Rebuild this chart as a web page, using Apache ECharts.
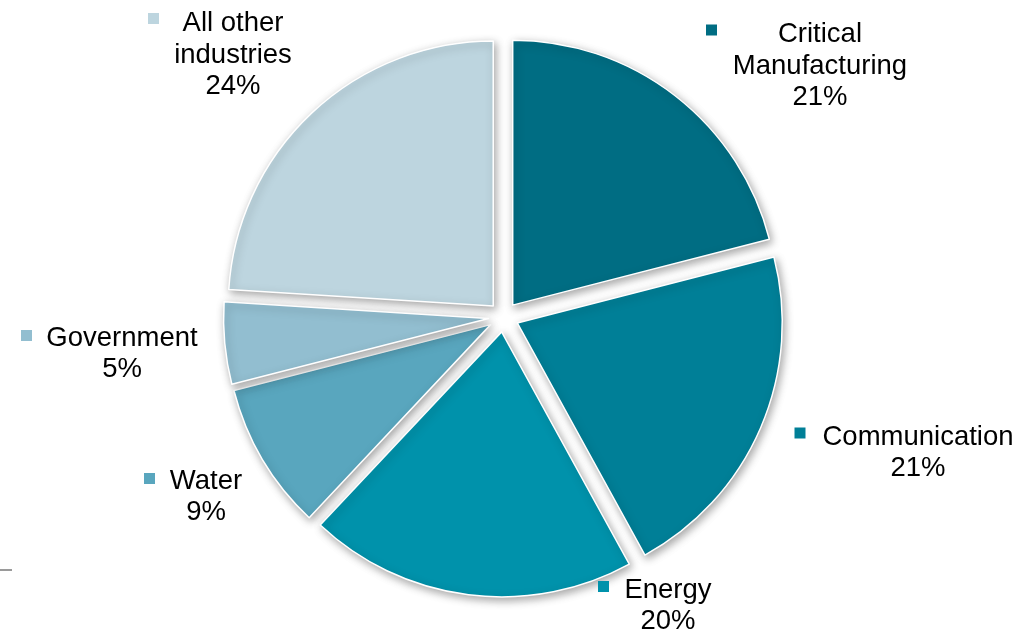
<!DOCTYPE html>
<html><head><meta charset="utf-8">
<script src="https://cdn.jsdelivr.net/npm/echarts@6/dist/echarts.min.js"></script>
<style>html,body{margin:0;padding:0;background:#fff}#c{width:1025px;height:631px}</style>
</head><body><div id="c"></div>
<script>
const categories = ['Critical\nManufacturing', 'Communication', 'Energy', 'Water', 'Government', 'All other\nindustries'];
const values = [21, 21, 20, 9, 5, 24];

const colors = ['#006D83', '#007F97', '#0092AB', '#59A6BE', '#92BED0', '#BDD5DF'];
const labelPos = [[820, 66], [918, 453], [668, 606], [206, 497], [122, 354], [233, 55]];
const markerPos = [[711.5, 30], [800, 433], [603.5, 586.5], [149.5, 478.5], [26.5, 335.5], [153.5, 18.5]];

const total = values.reduce((a, b) => a + b, 0);
const chart = echarts.init(document.getElementById('c'), null, {renderer: 'canvas'});
const pieCenter = [503.5, 317];
const pieRadius = 265;

function overlaySeries(labelOpt, posArr, perItem) {
  return {
    type: 'pie',
    center: pieCenter,
    radius: pieRadius,
    startAngle: 90,
    clockwise: true,
    silent: true,
    avoidLabelOverlap: false,
    data: categories.map((c, i) => Object.assign({
      name: c, value: values[i],
      itemStyle: {color: 'rgba(0,0,0,0)'}
    }, perItem ? perItem(i) : {})),
    label: labelOpt,
    labelLine: {show: false},
    labelLayout: p => ({x: posArr[p.dataIndex][0], y: posArr[p.dataIndex][1], align: 'center', verticalAlign: 'middle'}),
    emphasis: {disabled: true}
  };
}

chart.setOption({
  animation: false,
  backgroundColor: '#ffffff',
  graphic: [{type: 'line', shape: {x1: 0, y1: 570, x2: 12, y2: 570}, style: {stroke: '#9a9a9a', lineWidth: 2}}],
  series: [
    {
      type: 'pie',
      center: pieCenter,
      radius: pieRadius,
      startAngle: 90,
      clockwise: true,
      selectedMode: 'multiple',
      selectedOffset: 15,
      data: categories.map((c, i) => ({
        name: c, value: values[i], selected: true,
        itemStyle: {color: colors[i]}
      })),
      itemStyle: {
        borderColor: '#ffffff', borderWidth: 1.5,
        shadowBlur: 8, shadowColor: 'rgba(0,0,0,0.35)', shadowOffsetX: 2, shadowOffsetY: 3
      },
      label: {show: false},
      labelLine: {show: false},
      emphasis: {disabled: true},
      silent: true
    },
    overlaySeries({
      show: true,
      position: 'inside',
      rotate: 0,
      formatter: p => p.name + '\n' + Math.round(p.value / total * 100) + '%',
      fontFamily: 'Liberation Sans, Arial, sans-serif',
      fontSize: 27.5,
      lineHeight: 31.5,
      color: '#000000',
      align: 'center'
    }, labelPos),
    overlaySeries({
      show: true,
      position: 'inside',
      formatter: ' ',
      width: 11, height: 11, fontSize: 8, lineHeight: 11, padding: 0
    }, markerPos, i => ({label: {backgroundColor: colors[i]}}))
  ]
});
</script>
</body></html>
